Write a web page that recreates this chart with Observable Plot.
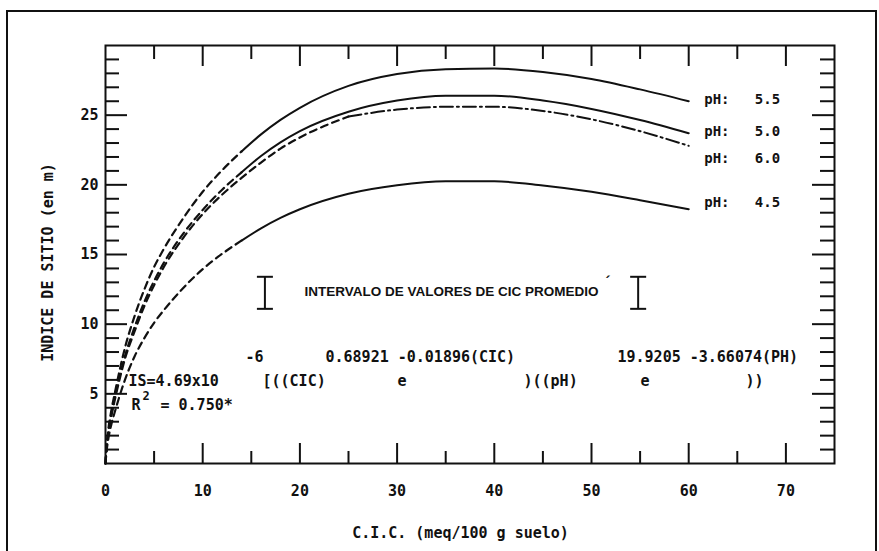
<!DOCTYPE html>
<html><head><meta charset="utf-8">
<script src="https://cdn.jsdelivr.net/npm/d3@7"></script>
<script src="https://cdn.jsdelivr.net/npm/@observablehq/plot@0.6"></script>
<style>
body{margin:0;background:#fff;}
#wrap{position:relative;width:879px;height:551px;overflow:hidden;background:#fff;}
#border{position:absolute;left:6px;top:10px;width:871px;height:600px;border:2px solid #111;box-sizing:border-box;}
#chart{position:absolute;left:0;top:0;}
</style></head><body><div id="wrap"><div id="border"></div><div id="chart"></div></div>
<script>
// C.I.C. (meq/100 g suelo)
const cic   = [0, 0.1, 0.3, 0.6, 1, 2, 3, 4, 5, 6, 8, 10, 12, 14, 16, 18, 20, 25, 30, 35, 40, 45, 50, 55, 60];
// Indice de sitio (m)
const ph55  = [0, 1.1, 2.5, 3.8, 5.2, 8.3, 10.6, 12.5, 14.1, 15.4, 17.6, 19.5, 21.05, 22.4, 23.62, 24.66, 25.53, 27.10, 27.95, 28.30, 28.35, 28.10, 27.60, 26.85, 26.00];
const ph50  = [0, 1.0, 2.3, 3.5, 4.9, 7.7, 9.8, 11.6, 13.1, 14.4, 16.5, 18.2, 19.65, 20.9, 22.07, 23.05, 23.86, 25.25, 26.05, 26.40, 26.40, 26.05, 25.45, 24.65, 23.70];
const ph60  = [0, 1.0, 2.2, 3.4, 4.7, 7.5, 9.5, 11.3, 12.8, 14.1, 16.2, 17.9, 19.3, 20.5, 21.6, 22.6, 23.4, 24.90, 25.40, 25.60, 25.60, 25.30, 24.70, 23.85, 22.80];
const ph45  = [0, 0.8, 1.8, 2.8, 3.8, 6.0, 7.7, 9.0, 10.1, 11.0, 12.6, 13.95, 15.05, 16.0, 16.88, 17.63, 18.25, 19.36, 19.97, 20.25, 20.25, 19.95, 19.50, 18.90, 18.25];
const seriesNames = ["5.5", "5.0", "6.0", "4.5"];
const seriesVals  = [ph55, ph50, ph60, ph45];
const labelY      = [26.1, 23.8, 21.9, 18.7];   // IS level where each pH label sits
// interval of mean CIC values
const intervalo = [16.4, 54.8];
const intervaloIS = [11.1, 13.4];
// tick labels
const xTickLabels = [0, 10, 20, 30, 40, 50, 60, 70];
const yTickLabels = [5, 10, 15, 20, 25];
const xTickMarks = [5, 10, 15, 20, 25, 30, 35, 40, 45, 50, 55, 60, 65, 70];
const yTickMarks = d3.range(1, 30);

const rows = [];
seriesNames.forEach((n, k) => cic.forEach((c, i) => rows.push({ph: n, c, v: seriesVals[k][i]})));

const W = 879, H = 551, ML = 105, MR = 45, MT = 45, MB = 88;
const pxX = (W - ML - MR) / 75, pxY = (H - MT - MB) / 30;
const ink = "#111";
const mono = "DejaVu Sans Mono";

const solid = rows.filter(d => d.ph !== "6.0" && d.c >= 14);
const dashed = rows.filter(d => (d.ph !== "6.0" && d.c <= 14) || (d.ph === "6.0" && d.c <= 25));
const dashdot = rows.filter(d => d.ph === "6.0" && d.c >= 25);

const T = (txt, dx, dy, o = {}) => Plot.text([txt], {frameAnchor: "top-left", dx: dx - ML, dy: dy - MT, text: d => d, textAnchor: "start", fontFamily: mono, fontSize: 15, fontWeight: "bold", fill: ink, ...o});

const chart = Plot.plot({
  width: W, height: H,
  marginLeft: ML, marginRight: MR, marginTop: MT, marginBottom: MB,
  x: {domain: [0, 75]},
  y: {domain: [0, 30]},
  style: {fontFamily: mono, background: "transparent"},
  marks: [
    Plot.axisX({ticks: xTickLabels, tickSize: 0, tickPadding: 22, fontSize: 15, fontWeight: "bold", fontFamily: mono, label: null, fill: ink}),
    Plot.axisY({ticks: yTickLabels, tickSize: 0, tickPadding: 7, fontSize: 15, fontWeight: "bold", fontFamily: mono, label: null, fill: ink}),
    // inner ticks
    Plot.ruleX(xTickMarks, {x: d => d, y1: 0, y2: d => (d % 10 === 0 ? 20 : 12) / pxY, stroke: ink, strokeWidth: 2}),
    Plot.ruleX(xTickMarks, {x: d => d, y1: 30, y2: d => 30 - (d % 10 === 0 ? 21 : 14) / pxY, stroke: ink, strokeWidth: 2}),
    Plot.ruleY(yTickMarks, {y: d => d, x1: 0, x2: d => (d % 5 === 0 ? 22 : 14) / pxX, stroke: ink, strokeWidth: 2}),
    Plot.ruleY(yTickMarks, {y: d => d, x1: 75, x2: d => 75 - (d % 5 === 0 ? 22 : 14) / pxX, stroke: ink, strokeWidth: 2}),
    Plot.frame({stroke: ink, strokeWidth: 2}),
    // curves
    Plot.line(solid, {x: "c", y: "v", z: "ph", stroke: ink, strokeWidth: 2, curve: "monotone-x"}),
    Plot.line(dashed, {x: "c", y: "v", z: "ph", stroke: ink, strokeWidth: 2.2, strokeDasharray: "7,5", curve: "monotone-x"}),
    Plot.line(dashdot, {x: "c", y: "v", stroke: ink, strokeWidth: 2, strokeDasharray: "13,4,2,4", curve: "monotone-x"}),
    // pH labels
    Plot.text(seriesNames, {x: 61.6, y: (d, i) => labelY[i], text: d => "pH:   " + d, textAnchor: "start", fontFamily: mono, fontSize: 14, fontWeight: "bold", fill: ink}),
    // interval bars
    Plot.ruleX(intervalo, {x: d => d, y1: intervaloIS[0], y2: intervaloIS[1], stroke: ink, strokeWidth: 2}),
    Plot.link(intervalo, {x1: d => d - 8 / pxX, x2: d => d + 8 / pxX, y1: intervaloIS[0], y2: intervaloIS[0], stroke: ink, strokeWidth: 2}),
    Plot.link(intervalo, {x1: d => d - 8 / pxX, x2: d => d + 8 / pxX, y1: intervaloIS[1], y2: intervaloIS[1], stroke: ink, strokeWidth: 2}),
    T("INTERVALO DE VALORES DE CIC PROMEDIO", 304, 286, {fontFamily: "Liberation Sans", fontSize: 13.5, letterSpacing: "-0.3px"}),
    T("\u00B4", 605, 276, {fontFamily: "Liberation Sans", fontSize: 15}),
    // equation
    T("IS=4.69x10", 128, 375),
    T("-6", 245, 351),
    T("[((CIC)", 262, 375),
    T("0.68921 -0.01896(CIC)", 325, 351),
    T("e", 397, 375),
    T(")((pH)", 523, 375),
    T("19.9205 -3.66074(PH)", 617, 351),
    T("e", 640, 375),
    T("))", 745, 375),
    T("R", 131, 399),
    T("2", 142, 391, {fontSize: 12}),
    T("= 0.750*", 160, 399),
    // axis titles
    T("C.I.C. (meq/100 g suelo)", 460, 527, {textAnchor: "middle"}),
    T("INDICE DE SITIO (en m)", 42, 262, {textAnchor: "middle", rotate: -90})
  ]
});
document.getElementById("chart").appendChild(chart);
</script>
</body></html>
